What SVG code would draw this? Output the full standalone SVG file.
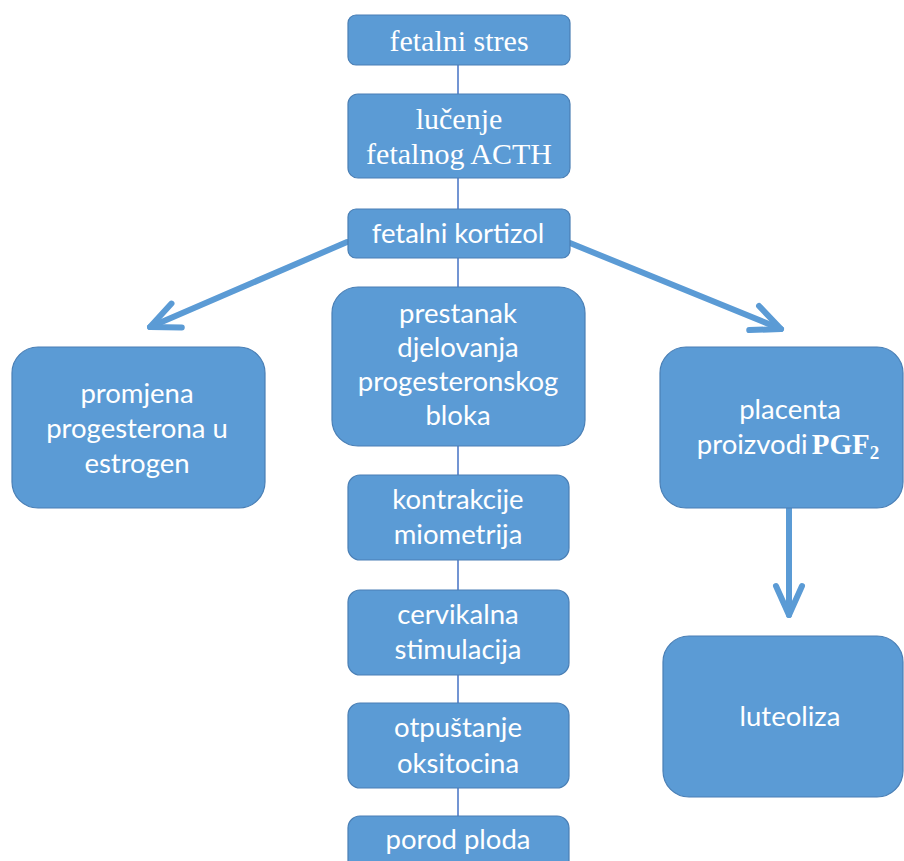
<svg xmlns="http://www.w3.org/2000/svg" width="904" height="861" viewBox="0 0 904 861">
<defs>
<style>
.box{fill:#5B9BD5;stroke:#4A7FB5;stroke-width:1.2}
.t{fill:#FFFFFF;font-family:Lato,"Open Sans","Liberation Sans",sans-serif;font-size:27.5px;text-anchor:middle}
.s{fill:#FFFFFF;font-family:"Liberation Serif","Times New Roman",serif;font-size:30px;text-anchor:middle}
.ln{stroke:#4472C4;stroke-width:1.5;fill:none}
.ar{stroke:#5B9BD5;stroke-width:6;fill:none;stroke-linecap:round;stroke-linejoin:round}
</style>
<marker id="chev" markerUnits="userSpaceOnUse" markerWidth="80" markerHeight="80" viewBox="-40 -40 80 80" refX="0" refY="0" orient="auto" overflow="visible">
<path d="M -29 -13 L 0 0 L -29 13" fill="none" stroke="#5B9BD5" stroke-width="6" stroke-linecap="round" stroke-linejoin="round"/>
</marker>
</defs>
<rect width="904" height="861" fill="#FFFFFF"/>
<g id="connectors">
<line class="ln" x1="458" y1="65" x2="458" y2="94"/>
<line class="ln" x1="458" y1="178" x2="458" y2="209"/>
<line class="ln" x1="458" y1="258" x2="458" y2="287"/>
<line class="ln" x1="458" y1="446" x2="458" y2="475"/>
<line class="ln" x1="458" y1="560" x2="458" y2="590"/>
<line class="ln" x1="458" y1="675" x2="458" y2="703"/>
<line class="ln" x1="458" y1="788" x2="458" y2="816"/>
<line class="ar" x1="347" y1="242" x2="150" y2="327" marker-end="url(#chev)"/>
<line class="ar" x1="570" y1="243" x2="781" y2="329" marker-end="url(#chev)"/>
<line class="ar" x1="789" y1="508" x2="789" y2="615" marker-end="url(#chev)"/>
</g>
<g id="n1"><rect class="box" x="348" y="15" width="222" height="50" rx="8"/><text class="s" x="459" y="51">fetalni stres</text></g>
<g id="n2"><rect class="box" x="348" y="94" width="222" height="84" rx="10"/><text class="s" x="459" y="129">lučenje</text><text class="s" x="459" y="164">fetalnog ACTH</text></g>
<g id="n3"><rect class="box" x="348" y="209" width="222" height="49" rx="8"/><text class="t" x="458" y="243">fetalni kortizol</text></g>
<g id="n4"><rect class="box" x="332" y="287" width="253" height="159" rx="26"/><text class="t" x="458" y="323">prestanak</text><text class="t" x="458" y="357">djelovanja</text><text class="t" x="458" y="391">progesteronskog</text><text class="t" x="458" y="425">bloka</text></g>
<g id="n5"><rect class="box" x="348" y="475" width="221" height="85" rx="12"/><text class="t" x="458" y="509">kontrakcije</text><text class="t" x="458" y="544">miometrija</text></g>
<g id="n6"><rect class="box" x="348" y="590" width="221" height="85" rx="12"/><text class="t" x="458" y="624">cervikalna</text><text class="t" x="458" y="659">stimulacija</text></g>
<g id="n7"><rect class="box" x="348" y="703" width="221" height="85" rx="12"/><text class="t" x="458" y="737">otpuštanje</text><text class="t" x="458" y="773">oksitocina</text></g>
<g id="n8"><rect class="box" x="348" y="816" width="221" height="60" rx="12"/><text class="t" x="458" y="849">porod ploda</text></g>
<g id="n9"><rect class="box" x="12" y="347" width="253" height="161" rx="26"/><text class="t" x="137" y="403">promjena</text><text class="t" x="137" y="438">progesterona u</text><text class="t" x="137" y="473">estrogen</text></g>
<g id="n10"><rect class="box" x="660" y="347" width="243" height="161" rx="26"/><text class="t" x="790" y="419">placenta</text><text class="t" x="788" y="454">proizvodi<tspan font-family="'Liberation Serif',serif" font-weight="bold" font-size="29" dx="4">PGF</tspan><tspan font-family="'Liberation Serif',serif" font-weight="bold" font-size="19" dy="5">2</tspan></text></g>
<g id="n11"><rect class="box" x="663" y="636" width="240" height="161" rx="26"/><text class="t" x="790" y="726">luteoliza</text></g>
</svg>
